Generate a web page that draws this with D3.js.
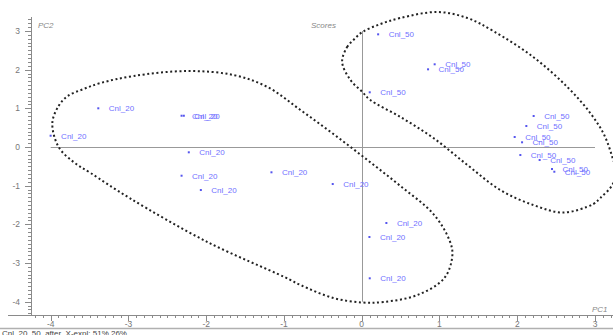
<!DOCTYPE html>
<html><head><meta charset="utf-8">
<script src="https://cdn.jsdelivr.net/npm/d3@7"></script>
<style>body{margin:0;background:#fff;}svg{display:block;font-family:"Liberation Sans",Arial,sans-serif;}</style>
</head><body>
<svg id="c" width="613" height="335"></svg>
<script>
// --- data ---
const group20Label = "Cnl_20";
const group20X = [-3.388,-2.317,-2.288,-4.001,-2.224,-2.317,-2.069,-1.161,-0.373,0.317,0.099,0.103];
const group20Y = [1.001,0.809,0.809,0.292,-0.137,-0.742,-1.112,-0.654,-0.957,-1.965,-2.327,-3.395];
const group50Label = "Cnl_50";
const group50X = [0.211,0.938,0.853,0.103,2.211,2.117,1.967,2.062,2.040,2.288,2.447,2.477];
const group50Y = [2.914,2.139,2.009,1.415,0.802,0.543,0.259,0.122,-0.207,-0.336,-0.569,-0.639];
const xTicks = [-4,-3,-2,-1,0,1,2,3];
const yTicks = [-4,-3,-2,-1,0,1,2,3];
// hand-drawn outline curves (data coordinates)
const outline20X = [-3.979,-3.898,-3.781,-3.577,-3.359,-2.935,-2.241,-1.649,-1.212,-0.788,-0.364,0.073,0.498,0.922,1.127,1.166,1.063,0.716,0.279,0.009,-0.364,-0.788,-0.994,-1.984,-2.986,-3.487,-3.706,-3.898];
const outline20Y = [0.621,1.060,1.319,1.500,1.655,1.836,1.965,1.862,1.552,0.957,0.336,-0.336,-1.009,-1.733,-2.405,-2.793,-3.388,-3.827,-4.008,-4.021,-3.905,-3.568,-3.362,-2.457,-1.319,-0.672,-0.388,0.000];
const outline50X = [-0.252,-0.188,-0.107,0.009,0.240,0.497,0.973,1.359,1.692,2.206,2.644,2.939,3.119,3.222,3.274,3.222,3.068,2.978,2.593,2.206,1.782,1.359,0.922,0.497,0.111,0.009,-0.145];
const outline50Y = [2.198,2.586,2.767,2.974,3.180,3.336,3.491,3.336,2.999,2.327,1.552,0.879,0.310,-0.259,-0.647,-0.983,-1.319,-1.474,-1.694,-1.500,-1.112,-0.465,0.233,0.776,1.215,1.422,1.733];
const titleText = "Scores";
const xName = "PC1", yName = "PC2";
const footer = "Cnl_20_50_after_X-expl: 51% 26%";

// --- drawing ---
const svg = d3.select("#c");
const x = d3.scaleLinear().domain([-4,3]).range([50.7,595]);
const y = d3.scaleLinear().domain([-4,3]).range([301.7,31]);
const axisY = 315, axisX = 31;
const gray = "#8a8a8a", tickCol = "#777";

// bottom frame line
svg.append("line").attr("x1",0).attr("x2",613).attr("y1",328.5).attr("y2",328.5)
  .attr("stroke","#b0b0b0").attr("stroke-width",1.5);
svg.append("text").attr("x",2).attr("y",336).attr("font-size",8).attr("fill","#444").text(footer);

// x axis
const xMinor = d3.range(-42,33).map(v=>v/10);
svg.append("line").attr("x1",8).attr("x2",613).attr("y1",axisY+0.5).attr("y2",axisY+0.5).attr("stroke",gray);
svg.selectAll(".xm").data(xMinor).join("line")
  .attr("x1",d=>Math.round(x(d))+0.5).attr("x2",d=>Math.round(x(d))+0.5)
  .attr("y1",axisY).attr("y2",axisY+3).attr("stroke",gray);
svg.selectAll(".xM").data(xTicks).join("line")
  .attr("x1",d=>Math.round(x(d))+0.5).attr("x2",d=>Math.round(x(d))+0.5)
  .attr("y1",axisY).attr("y2",axisY+6).attr("stroke",gray);
svg.selectAll(".xl").data(xTicks).join("text")
  .attr("x",d=>x(d)).attr("y",326.5).attr("text-anchor","middle")
  .attr("font-size",8.5).attr("fill",tickCol).text(d=>d);

// y axis
const yMinor = d3.range(-43,34).map(v=>v/10);
svg.append("line").attr("x1",axisX+0.5).attr("x2",axisX+0.5).attr("y1",17).attr("y2",axisY).attr("stroke",gray);
svg.selectAll(".ym").data(yMinor).join("line")
  .attr("y1",d=>Math.round(y(d))+0.5).attr("y2",d=>Math.round(y(d))+0.5)
  .attr("x1",axisX-3).attr("x2",axisX).attr("stroke",gray);
svg.selectAll(".yM").data(yTicks).join("line")
  .attr("y1",d=>Math.round(y(d))+0.5).attr("y2",d=>Math.round(y(d))+0.5)
  .attr("x1",axisX-6).attr("x2",axisX).attr("stroke",gray);
svg.selectAll(".yl").data(yTicks).join("text")
  .attr("x",20).attr("y",d=>y(d)+3).attr("text-anchor","end")
  .attr("font-size",8.5).attr("fill",tickCol).text(d=>d);

// zero lines
svg.append("line").attr("x1",x(-4)).attr("x2",x(3)).attr("y1",Math.round(y(0))+0.5).attr("y2",Math.round(y(0))+0.5).attr("stroke","#999");
svg.append("line").attr("y1",y(3)).attr("y2",y(-4)).attr("x1",Math.round(x(0))+0.5).attr("x2",Math.round(x(0))+0.5).attr("stroke","#999");

// axis names
svg.append("text").attr("x",38).attr("y",28).attr("font-size",8).attr("font-style","italic").attr("fill","#888").text(yName);
svg.append("text").attr("x",311).attr("y",28).attr("font-size",8).attr("font-style","italic").attr("fill","#888").text(titleText);
svg.append("text").attr("x",592).attr("y",312).attr("font-size",8).attr("font-style","italic").attr("fill","#888").text(xName);

// outlines
const line = d3.line().x(d=>x(d[0])).y(d=>y(d[1])).curve(d3.curveCatmullRomClosed.alpha(0.5));
[[outline20X,outline20Y],[outline50X,outline50Y]].forEach(([xs,ys])=>{
  svg.append("path").attr("d",line(xs.map((v,i)=>[v,ys[i]])))
    .attr("fill","none").attr("stroke","#222").attr("stroke-width",2)
    .attr("stroke-dasharray","2 2.6");
});

// points
function drawGroup(xs,ys,label){
  const pts = xs.map((v,i)=>({x:v,y:ys[i]}));
  svg.append("g").selectAll("rect").data(pts).join("rect")
    .attr("x",d=>x(d.x)-1).attr("y",d=>y(d.y)-1).attr("width",2).attr("height",2).attr("fill","#5555ee");
  svg.append("g").selectAll("text").data(pts).join("text")
    .attr("x",d=>x(d.x)+10.5).attr("y",d=>y(d.y)+3)
    .attr("font-size",8).attr("fill","#7070ff").text(label);
}
drawGroup(group20X,group20Y,group20Label);
drawGroup(group50X,group50Y,group50Label);
</script>
</body></html>
